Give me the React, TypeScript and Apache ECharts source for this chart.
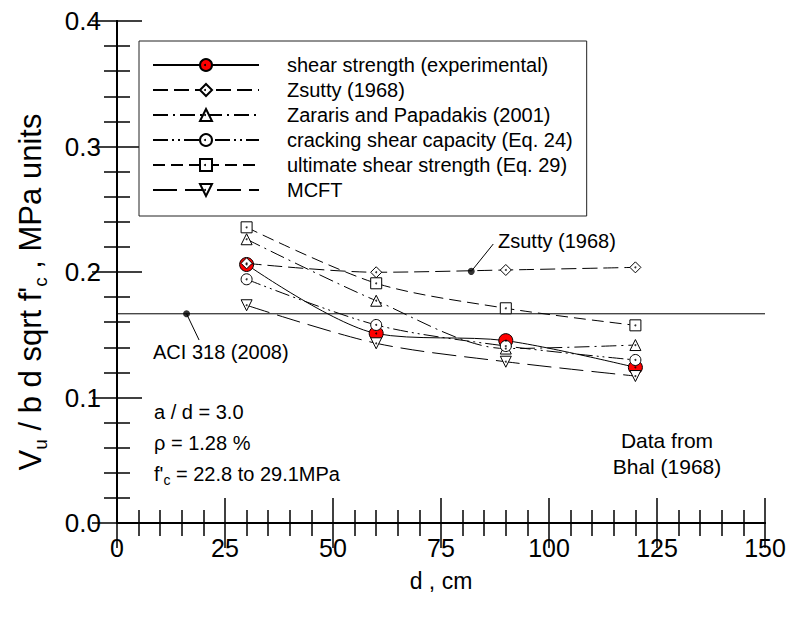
import React, { useEffect, useRef } from "react";
import * as echarts from "echarts";

const depths = [30, 60, 90, 120];
const experimental = [0.206, 0.151, 0.1453, 0.124];
const zsutty = [0.2069, 0.1998, 0.2016, 0.2037];
const zararis = [0.2261, 0.1771, 0.139, 0.1418];
const cracking = [0.1942, 0.1578, 0.141, 0.1299];
const ultimate = [0.2356, 0.191, 0.1711, 0.1575];
const mcft = [0.1735, 0.1432, 0.1285, 0.1171];

const seriesNames = [
  "shear strength (experimental)",
  "Zsutty (1968)",
  "Zararis and Papadakis (2001)",
  "cracking shear capacity (Eq. 24)",
  "ultimate shear strength (Eq. 29)",
  "MCFT",
];

const aciValue = 0.1667;
const aciSpan = [0, 150];
const aciMarker = [16.1, 0.1667];
const aciLeaderEnd = [19.0, 0.1458];
const zsuttyMarker = [82.0, 0.2005];
const zsuttyLeaderEnd = [87.1, 0.2223];

const xTicks = { min: 0, max: 150, interval: 25 };
const yTicks = { min: 0, max: 0.4, interval: 0.1 };

const FONT = "'Liberation Sans', Arial, Helvetica, sans-serif";

function zip(xs: number[], ys: number[]) {
  return xs.map((x, i) => [x, ys[i]]);
}

export default function App() {
  const ref = useRef<HTMLDivElement>(null);
  useEffect(() => {
    if (!ref.current) return;
    const chart = echarts.init(ref.current, undefined, { renderer: "svg" });

    const hollow = (
      name: string,
      data: number[],
      symbol: string,
      dash: any,
      rotate = 0
    ) => ({
      name,
      type: "line",
      data: zip(depths, data),
      symbol,
      symbolSize: 11,
      symbolRotate: rotate,
      smooth: 0.3,
      itemStyle: { color: "#fff", borderColor: "#000", borderWidth: 1 },
      lineStyle: { color: "#000", width: 1, type: dash },
      z: 3,
    });

    const allHollow = [zsutty, zararis, cracking, ultimate, mcft];
    const dotData: number[][] = [];
    allHollow.forEach((arr) => zip(depths, arr).forEach((p) => dotData.push(p)));
    zip(depths, experimental).forEach((p) => dotData.push(p));

    const axisCommon = {
      axisLine: { show: true, lineStyle: { color: "#000", width: 2 } },
      axisTick: { show: true, inside: true, length: 25, lineStyle: { color: "#000", width: 1.5 } },
      minorTick: { show: true, splitNumber: 5, length: 13, lineStyle: { color: "#000", width: 1.5 } },
      splitLine: { show: false },
      minorSplitLine: { show: false },
    };

    const txt = (x: number, y: number, text: string, align = "left", size = 20) => ({
      type: "text",
      x,
      y,
      silent: true,
      z: 10,
      style: { text, fontSize: size, fontFamily: FONT, fill: "#000", align, verticalAlign: "middle" },
    });

    // small centre dots of the legend markers (decoration of the legend keys)
    const legendDots = seriesNames.map((_, i) => ({
      type: "circle",
      x: 205,
      y: 65 + 25 * i,
      silent: true,
      z: 200,
      shape: { r: 1 },
      style: { fill: "#000" },
    }));

    const option: any = {
      animation: false,
      backgroundColor: "#fff",
      grid: { left: 117, right: 25, top: 21, bottom: 98, containLabel: false },
      xAxis: [
        {
          type: "value",
          ...xTicks,
          position: "bottom",
          ...axisCommon,
          axisLabel: { fontSize: 25, color: "#000", margin: 12, fontFamily: FONT },
          name: "d , cm",
          nameLocation: "middle",
          nameGap: 46,
          nameTextStyle: { fontSize: 23, color: "#000", fontFamily: FONT },
        },
        {
          type: "value",
          ...xTicks,
          position: "top",
          ...axisCommon,
          axisLabel: { show: false },
        },
      ],
      yAxis: [
        {
          type: "value",
          ...yTicks,
          position: "left",
          ...axisCommon,
          axisLabel: {
            fontSize: 26,
            color: "#000",
            margin: 16,
            fontFamily: FONT,
            formatter: (v: number) => v.toFixed(1),
          },
        },
        {
          type: "value",
          ...yTicks,
          position: "right",
          ...axisCommon,
          axisLabel: { show: false },
        },
      ],
      legend: {
        data: seriesNames,
        orient: "vertical",
        left: 139,
        top: 41,
        padding: [14, 14, 16, 13],
        itemWidth: 106,
        itemHeight: 15,
        itemGap: 5,
        borderColor: "#222",
        borderWidth: 1,
        backgroundColor: "#fff",
        textStyle: { fontSize: 20, color: "#000", fontFamily: FONT, padding: [0, 0, 0, 23], lineHeight: 15 },
      },
      series: [
        {
          name: seriesNames[0],
          type: "line",
          data: zip(depths, experimental),
          symbol: "circle",
          symbolSize: 14,
          smooth: 0.3,
          itemStyle: { color: "#ff0000", borderColor: "#000", borderWidth: 1 },
          lineStyle: { color: "#000", width: 1, type: "solid" },
          z: 2,
        },
        hollow(seriesNames[1], zsutty, "diamond", [15, 6]),
        hollow(seriesNames[2], zararis, "triangle", [15, 5, 2, 5]),
        hollow(seriesNames[3], cracking, "circle", [15, 4, 2, 4, 2, 4]),
        hollow(seriesNames[4], ultimate, "rect", [12, 6]),
        hollow(seriesNames[5], mcft, "triangle", [24, 8], 180),
        {
          name: "ACI",
          type: "line",
          data: aciSpan.map((x) => [x, aciValue]),
          symbol: "none",
          lineStyle: { color: "#000", width: 1 },
          z: 1,
          silent: true,
        },
        {
          name: "leaders",
          type: "line",
          data: [aciMarker, aciLeaderEnd, [null, null], zsuttyMarker, zsuttyLeaderEnd] as any,
          connectNulls: false,
          symbol: "none",
          lineStyle: { color: "#000", width: 1 },
          z: 4,
          silent: true,
        },
        {
          name: "markers",
          type: "scatter",
          data: [aciMarker, zsuttyMarker],
          symbol: "circle",
          symbolSize: 7,
          itemStyle: { color: "#000" },
          z: 5,
          silent: true,
        },
        {
          name: "dots",
          type: "scatter",
          data: dotData,
          symbol: "circle",
          symbolSize: 2,
          itemStyle: { color: "#000" },
          z: 6,
          silent: true,
        },
      ],
      graphic: [
        {
          type: "text",
          x: 30,
          y: 292,
          rotation: Math.PI / 2,
          silent: true,
          style: {
            text: "V{sub|u} / b d sqrt f'{sub|c} , MPa units",
            fontSize: 31,
            fontFamily: FONT,
            fill: "#000",
            align: "center",
            verticalAlign: "middle",
            lineHeight: 40,
            rich: { sub: { fontSize: 19, lineHeight: 19, verticalAlign: "bottom", fontFamily: FONT, fill: "#000" } },
          },
        },
        txt(498, 241, "Zsutty (1968)"),
        txt(153, 352, "ACI 318 (2008)"),
        txt(154, 412, "a / d = 3.0"),
        txt(154, 443, "\u03c1 = 1.28 %"),
        {
          type: "text",
          x: 154,
          y: 474,
          silent: true,
          style: {
            text: "f'{sub|c} = 22.8 to 29.1MPa",
            fontSize: 20,
            fontFamily: FONT,
            fill: "#000",
            verticalAlign: "middle",
            lineHeight: 26,
            rich: { sub: { fontSize: 14, lineHeight: 14, verticalAlign: "bottom", fontFamily: FONT, fill: "#000" } },
          },
        },
        txt(667, 440, "Data from", "center", 21),
        txt(667, 466, "Bhal (1968)", "center", 21),
        ...legendDots,
      ],
    };
    chart.setOption(option);
    return () => chart.dispose();
  }, []);
  return <div ref={ref} style={{ width: 790, height: 621, position: "absolute", left: 0, top: 0, background: "#fff" }} />;
}
